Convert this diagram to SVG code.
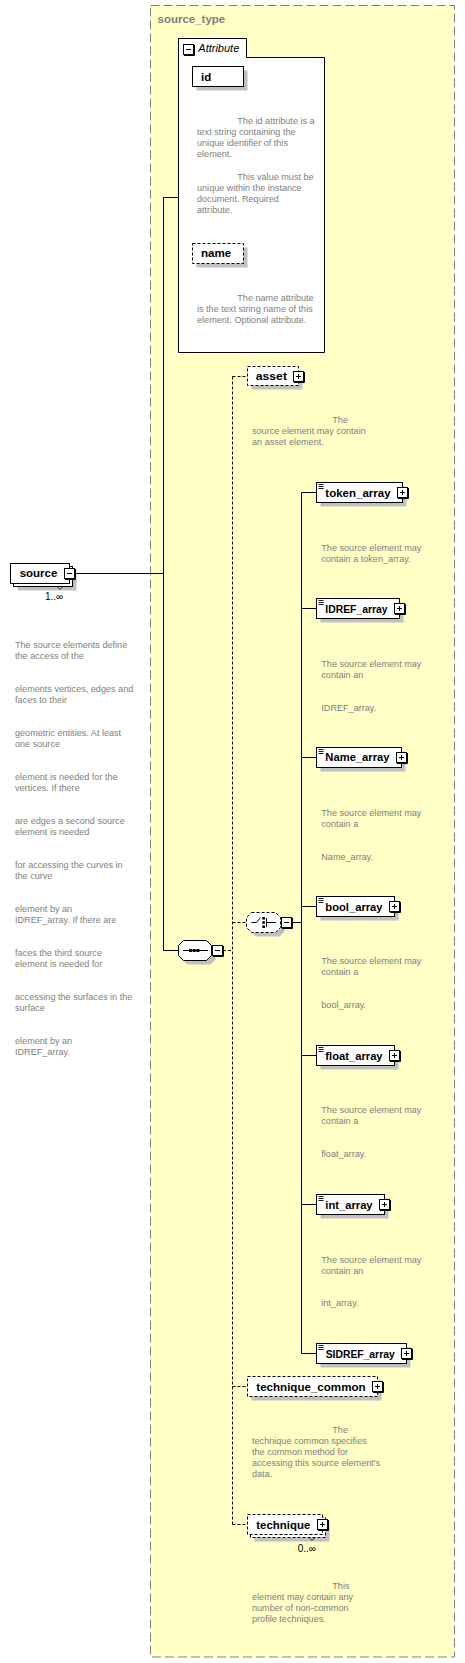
<svg xmlns="http://www.w3.org/2000/svg" xmlns:xlink="http://www.w3.org/1999/xlink" width="465" height="1663" viewBox="0 0 465 1663">
<style>
.b{fill:#fff;stroke:#000;stroke-width:1}
.bd{fill:#fff;stroke:#000;stroke-width:1;stroke-dasharray:3,2}
.sh{fill:#c0c0c0}
.l{font-family:"Liberation Sans",Arial,sans-serif;font-weight:bold;font-size:11.5px;fill:#000}
.d{font-family:"Liberation Sans",Arial,sans-serif;font-size:9.1px;fill:#808080}
.m{font-family:"Liberation Sans",Arial,sans-serif;font-size:10px;fill:#000}
.c{fill:none;stroke:#000;stroke-width:1}
.cd{fill:none;stroke:#000;stroke-width:1;stroke-dasharray:3,2}
</style>
<defs>
<g id="pl"><rect x="0.5" y="0.5" width="10" height="10" fill="#fff" stroke="#000"/><path d="M11.5,1 V11.5 H1" fill="none" stroke="#000"/><path d="M3,5.5 H8 M5.5,3 V8" fill="none" stroke="#000"/></g>
<g id="mi"><rect x="0.5" y="0.5" width="10" height="10" fill="#fff" stroke="#000"/><path d="M11.5,1 V11.5 H1" fill="none" stroke="#000"/><path d="M3,5.5 H8" fill="none" stroke="#000"/></g>
<path id="eq" d="M0,0.5 H5 M0,2.5 H5 M0,4.5 H5" fill="none" stroke="#000" stroke-width="0.9"/>
</defs>
<rect width="465" height="1663" fill="#fff"/>
<g id="source_type">
<rect x="150.5" y="5.5" width="304" height="1651.5" fill="#ffffc6" stroke="#808080" stroke-dasharray="9,4"/>
<text x="157.5" y="22.7" font-family="Liberation Sans,Arial,sans-serif" font-weight="bold" font-size="11.5" fill="#808080">source_type</text>
</g>
<g id="connectors">
<path class="c" d="M76,573.5 H163.5 M163.5,197.5 V950.5 H178.5 M163.5,197.5 H178.5"/>
<path class="cd" d="M223,950.5 H232.5 M232.5,376.5 V1524.5 M232.5,376.5 H247.5 M232.5,922.5 H246.5 M232.5,1386.5 H247.5 M232.5,1524.5 H247.5"/>
<path class="c" d="M292,922.5 H301.5 M301.5,492.5 V1353.5 M301.5,492.5 H316.5 M301.5,608.5 H316.5 M301.5,757.5 H316.5 M301.5,906.5 H316.5 M301.5,1055.5 H316.5 M301.5,1204.5 H316.5 M301.5,1353.5 H316.5"/>
</g>
<g id="attributes">
<path d="M178.5,38.5 H246.5 V57.5 H324.5 V352.5 H178.5 Z" fill="#fff" stroke="#000"/>
<use xlink:href="#mi" x="183" y="44"/>
<text x="198.3" y="52" font-family="Liberation Sans,Arial,sans-serif" font-style="italic" font-size="11" fill="#000">Attribute</text>
</g>
<g id="id">
<rect class="sh" x="196.5" y="70.5" width="51" height="20"/>
<rect class="b" x="192.5" y="66.5" width="51" height="20"/>
<text class="l" x="201" y="80.5">id</text>
<text class="d" x="237.3" y="123.7">The id attribute is a</text>
<text class="d" x="197" y="134.7">text string containing the</text>
<text class="d" x="197" y="145.7">unique identifier of this</text>
<text class="d" x="197" y="156.7">element.</text>
<text class="d" x="237.3" y="179.7">This value must be</text>
<text class="d" x="197" y="190.7">unique within the instance</text>
<text class="d" x="197" y="201.7">document. Required</text>
<text class="d" x="197" y="212.7">attribute.</text>
</g>
<g id="name">
<rect class="sh" x="196.5" y="247.5" width="51" height="20"/>
<rect class="bd" x="192.5" y="243.5" width="51" height="20"/>
<text class="l" x="201" y="257" textLength="30.3" lengthAdjust="spacingAndGlyphs">name</text>
<text class="d" x="237.3" y="300.7">The name attribute</text>
<text class="d" x="197" y="311.7">is the text string name of this</text>
<text class="d" x="197" y="322.7">element. Optional attribute.</text>
</g>
<g id="source">
<rect class="sh" x="17.5" y="570.5" width="59" height="20"/>
<rect class="b" x="13.5" y="566.5" width="59" height="20"/>
<rect class="b" x="10.5" y="563.5" width="59" height="20"/>
<path d="M57,586.5 L60,589.5 L63,586.5" fill="none" stroke="#000" stroke-width="0.8"/>
<text class="l" x="19.7" y="577" textLength="37.7" lengthAdjust="spacingAndGlyphs">source</text>
<use xlink:href="#mi" x="64" y="568"/>
<text class="m" x="45" y="600">1..∞</text>
<text class="d" x="15" y="648.3">The source elements define</text>
<text class="d" x="15" y="659.3">the access of the</text>
<text class="d" x="15" y="692.3">elements vertices, edges and</text>
<text class="d" x="15" y="703.3">faces to their</text>
<text class="d" x="15" y="736.3">geometric entities. At least</text>
<text class="d" x="15" y="747.3">one source</text>
<text class="d" x="15" y="780.3">element is needed for the</text>
<text class="d" x="15" y="791.3">vertices. If there</text>
<text class="d" x="15" y="824.3">are edges a second source</text>
<text class="d" x="15" y="835.3">element is needed</text>
<text class="d" x="15" y="868.3">for accessing the curves in</text>
<text class="d" x="15" y="879.3">the curve</text>
<text class="d" x="15" y="912.3">element by an</text>
<text class="d" x="15" y="923.3">IDREF_array. If there are</text>
<text class="d" x="15" y="956.3">faces the third source</text>
<text class="d" x="15" y="967.3">element is needed for</text>
<text class="d" x="15" y="1000.3">accessing the surfaces in the</text>
<text class="d" x="15" y="1011.3">surface</text>
<text class="d" x="15" y="1044.3">element by an</text>
<text class="d" x="15" y="1055.3">IDREF_array.</text>
</g>
<g id="sequence">
<path class="sh" d="M187.5,944.5 H210.5 L215.5,949.5 V959.5 L210.5,964.5 H187.5 L182.5,959.5 V949.5 Z"/>
<path class="b" d="M183.5,940.5 H206.5 L211.5,945.5 V955.5 L206.5,960.5 H183.5 L178.5,955.5 V945.5 Z"/>
<path d="M183,950.5 H208" stroke="#000" fill="none"/>
<rect x="189" y="949" width="3" height="3" fill="#000"/>
<rect x="192.7" y="949" width="3" height="3" fill="#000"/>
<rect x="196.4" y="949" width="3" height="3" fill="#000"/>
<use xlink:href="#mi" x="212" y="945"/>
</g>
<g id="asset">
<rect class="sh" x="251.5" y="370.5" width="51" height="19"/>
<rect class="bd" x="247.5" y="366.5" width="51" height="19"/>
<text class="l" x="255.7" y="380" textLength="31.3" lengthAdjust="spacingAndGlyphs">asset</text>
<use xlink:href="#pl" x="293" y="371"/>
<text class="d" x="332.3" y="423.3">The</text>
<text class="d" x="252" y="434.3">source element may contain</text>
<text class="d" x="252" y="445.3">an asset element.</text>
</g>
<g id="choice">
<path class="sh" d="M255.5,916.5 H279.5 L284.5,921.5 V931.5 L279.5,936.5 H255.5 L250.5,931.5 V921.5 Z"/>
<path class="bd" d="M251.5,912.5 H275.5 L280.5,917.5 V927.5 L275.5,932.5 H251.5 L246.5,927.5 V917.5 Z"/>
<path d="M251.5,922.5 H256.5 L260.5,917.5 M266.5,918 V927 M266.5,922.5 H276" stroke="#000" fill="none"/>
<rect x="262.3" y="917" width="2.6" height="2.6" fill="#000"/>
<rect x="262.3" y="921.2" width="2.6" height="2.6" fill="#000"/>
<rect x="262.3" y="925.4" width="2.6" height="2.6" fill="#000"/>
<use xlink:href="#mi" x="281" y="917"/>
</g>
<g id="token_array">
<rect class="sh" x="320.5" y="486.5" width="86" height="20"/>
<rect class="b" x="316.5" y="482.5" width="86" height="20"/>
<use xlink:href="#eq" x="318.5" y="484"/>
<text class="l" x="325.3" y="496.7" textLength="65.3" lengthAdjust="spacingAndGlyphs">token_array</text>
<use xlink:href="#pl" x="397" y="487"/>
<text class="d" x="321.3" y="551">The source element may</text>
<text class="d" x="321.3" y="562">contain a token_array.</text>
</g>
<g id="IDREF_array">
<rect class="sh" x="320.5" y="602.5" width="83" height="20"/>
<rect class="b" x="316.5" y="598.5" width="83" height="20"/>
<use xlink:href="#eq" x="318.5" y="600"/>
<text class="l" x="325.3" y="612.7" textLength="62.3" lengthAdjust="spacingAndGlyphs">IDREF_array</text>
<use xlink:href="#pl" x="394" y="603"/>
<text class="d" x="321.3" y="666.7">The source element may</text>
<text class="d" x="321.3" y="677.7">contain an</text>
<text class="d" x="321.3" y="710.7">IDREF_array.</text>
</g>
<g id="Name_array">
<rect class="sh" x="320.5" y="751.5" width="85" height="20"/>
<rect class="b" x="316.5" y="747.5" width="85" height="20"/>
<use xlink:href="#eq" x="318.5" y="749"/>
<text class="l" x="325.3" y="761.2" textLength="64.3" lengthAdjust="spacingAndGlyphs">Name_array</text>
<use xlink:href="#pl" x="396" y="752"/>
<text class="d" x="321.3" y="815.7">The source element may</text>
<text class="d" x="321.3" y="826.7">contain a</text>
<text class="d" x="321.3" y="859.7">Name_array.</text>
</g>
<g id="bool_array">
<rect class="sh" x="320.5" y="900.5" width="78" height="20"/>
<rect class="b" x="316.5" y="896.5" width="78" height="20"/>
<use xlink:href="#eq" x="318.5" y="898"/>
<text class="l" x="325.3" y="910.5" textLength="57.3" lengthAdjust="spacingAndGlyphs">bool_array</text>
<use xlink:href="#pl" x="389" y="901"/>
<text class="d" x="321.3" y="964">The source element may</text>
<text class="d" x="321.3" y="975">contain a</text>
<text class="d" x="321.3" y="1008.3">bool_array.</text>
</g>
<g id="float_array">
<rect class="sh" x="320.5" y="1049.5" width="78" height="20"/>
<rect class="b" x="316.5" y="1045.5" width="78" height="20"/>
<use xlink:href="#eq" x="318.5" y="1047"/>
<text class="l" x="325.3" y="1059.5" textLength="57.3" lengthAdjust="spacingAndGlyphs">float_array</text>
<use xlink:href="#pl" x="389" y="1050"/>
<text class="d" x="321.3" y="1113.3">The source element may</text>
<text class="d" x="321.3" y="1124.3">contain a</text>
<text class="d" x="321.3" y="1157.3">float_array.</text>
</g>
<g id="int_array">
<rect class="sh" x="320.5" y="1198.5" width="68" height="20"/>
<rect class="b" x="316.5" y="1194.5" width="68" height="20"/>
<use xlink:href="#eq" x="318.5" y="1196"/>
<text class="l" x="325.3" y="1208.5" textLength="47.3" lengthAdjust="spacingAndGlyphs">int_array</text>
<use xlink:href="#pl" x="379" y="1199"/>
<text class="d" x="321.3" y="1262.7">The source element may</text>
<text class="d" x="321.3" y="1273.7">contain an</text>
<text class="d" x="321.3" y="1306">int_array.</text>
</g>
<g id="SIDREF_array">
<rect class="sh" x="320.5" y="1347.5" width="90" height="20"/>
<rect class="b" x="316.5" y="1343.5" width="90" height="20"/>
<use xlink:href="#eq" x="318.5" y="1345"/>
<text class="l" x="325.7" y="1357.5" textLength="69" lengthAdjust="spacingAndGlyphs">SIDREF_array</text>
<use xlink:href="#pl" x="401" y="1348"/>
</g>
<g id="technique_common">
<rect class="sh" x="251.5" y="1380.5" width="130" height="20"/>
<rect class="bd" x="247.5" y="1376.5" width="130" height="20"/>
<text class="l" x="256.3" y="1390.5" textLength="109.3" lengthAdjust="spacingAndGlyphs">technique_common</text>
<use xlink:href="#pl" x="372" y="1381"/>
<text class="d" x="332.3" y="1433.3">The</text>
<text class="d" x="252" y="1444.3">technique common specifies</text>
<text class="d" x="252" y="1455.3">the common method for</text>
<text class="d" x="252" y="1466.3">accessing this source element's</text>
<text class="d" x="252" y="1477.3">data.</text>
</g>
<g id="technique">
<rect class="sh" x="254.5" y="1521.5" width="75" height="20"/>
<rect class="bd" x="250.5" y="1517.5" width="75" height="20"/>
<rect class="bd" x="247.5" y="1514.5" width="75" height="20"/>
<path d="M309,1537.5 L312,1540.5 L315,1537.5" fill="none" stroke="#000" stroke-width="0.8"/>
<text class="l" x="256.3" y="1528.5" textLength="54" lengthAdjust="spacingAndGlyphs">technique</text>
<use xlink:href="#pl" x="317" y="1519"/>
<text class="m" x="297.7" y="1551.7">0..∞</text>
<text class="d" x="332.3" y="1588.7">This</text>
<text class="d" x="252" y="1599.7">element may contain any</text>
<text class="d" x="252" y="1610.7">number of non-common</text>
<text class="d" x="252" y="1621.7">profile techniques.</text>
</g>
</svg>
